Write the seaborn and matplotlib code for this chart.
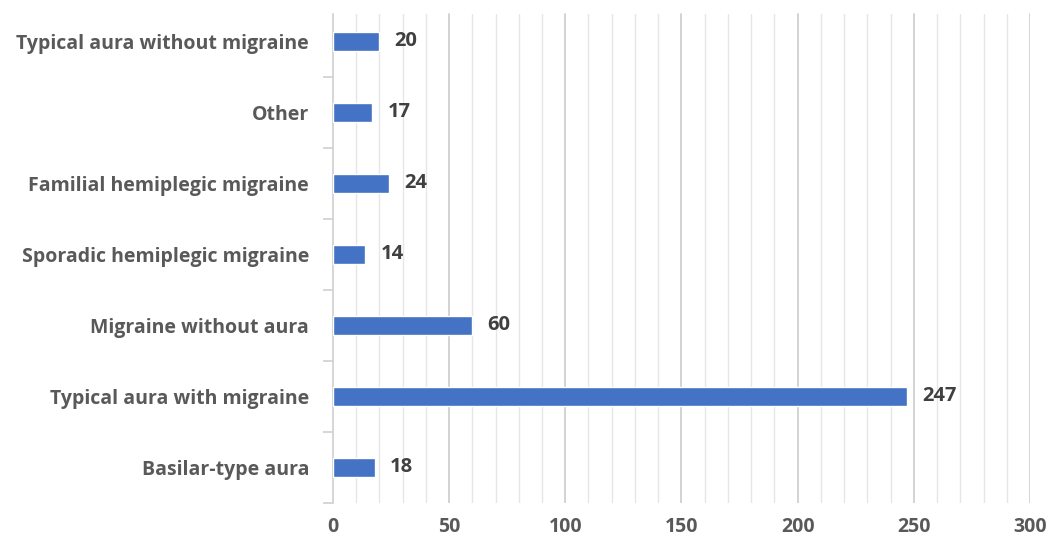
import matplotlib
matplotlib.use("Agg")
import matplotlib.pyplot as plt
from matplotlib.ticker import MultipleLocator, FixedLocator, NullLocator
import numpy as np
import seaborn as sns
import pandas as pd

categories = [
    "Typical aura without migraine",
    "Other",
    "Familial hemiplegic migraine",
    "Sporadic hemiplegic migraine",
    "Migraine without aura",
    "Typical aura with migraine",
    "Basilar-type aura",
]
counts = [20, 17, 24, 14, 60, 247, 18]

df = pd.DataFrame({"type": categories, "count": counts})

sns.set_theme(style="white")
plt.rcParams["font.family"] = ["Open Sans", "DejaVu Sans"]

fig = plt.figure(figsize=(10.5, 5.42), dpi=100)
ax = fig.add_axes([0.317, 0.072, 0.664, 0.917])

sns.barplot(data=df, x="count", y="type", orient="h", color="#4472C4",
            width=0.28, saturation=1, ax=ax, zorder=3)

n = len(categories)
ax.set_xlim(0, 300)
ax.set_ylim(n - 0.5, -0.5)

# vertical gridlines: darker every 50, lighter every 10, stopping a little
# below the top of the plot area
ax.xaxis.set_major_locator(MultipleLocator(50))
ax.xaxis.set_minor_locator(NullLocator())
ax.grid(False)
grid_top = 0.984
for v in np.arange(10, 301, 10):
    major = v % 50 == 0
    ax.axvline(v, ymin=0, ymax=grid_top,
               color="#D0D0D0" if major else "#E6E6E6",
               linewidth=1.3 if major else 1.0, zorder=0)

for side in ["top", "right", "bottom"]:
    ax.spines[side].set_visible(False)
ax.spines["left"].set_color("#D0D0D0")
ax.spines["left"].set_linewidth(1.2)
ax.spines["left"].set_bounds(n - 0.5, n - 0.5 - grid_top * n)

# category labels without tick marks; short ticks on the category boundaries
ax.tick_params(axis="y", which="major", left=False, length=0, pad=17,
               labelsize=14, labelcolor="#595959")
ax.yaxis.set_minor_locator(FixedLocator([i + 0.5 for i in range(n)]))
ax.tick_params(axis="y", which="minor", left=True, length=7, width=1.2,
               color="#D0D0D0", direction="out")
ax.tick_params(axis="x", which="both", bottom=False, length=0, pad=10,
               labelsize=14, labelcolor="#595959")
for lbl in ax.get_yticklabels() + ax.get_xticklabels():
    lbl.set_fontweight("bold")

ax.set_xlabel("")
ax.set_ylabel("")

ax.bar_label(ax.containers[0], labels=[str(v) for v in counts], padding=11,
             fontsize=14.5, fontweight="bold", color="#404040")

fig.savefig("out.png", dpi=100, facecolor="white")
